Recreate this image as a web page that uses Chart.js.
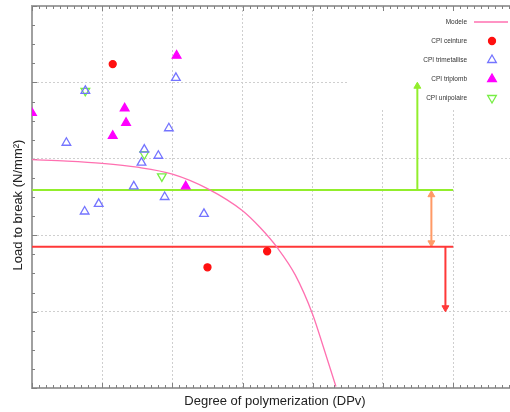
<!DOCTYPE html>
<html>
<head>
<meta charset="utf-8">
<script src="https://cdn.jsdelivr.net/npm/chart.js@4"></script>
<style>
  body { margin: 0; background: #fff; }
  #wrap { width: 510px; height: 412px; }
</style>
</head>
<body>
<div id="wrap"><canvas id="chart" width="510" height="412"></canvas></div>
<script>
// Load to break vs DPv (axes carry no numbers)
const modelX = [0, 0.5, 1, 1.5, 2, 2.5, 3, 3.25, 3.5, 3.75, 4, 4.15, 4.33];
const modelY = [2.99, 2.97, 2.94, 2.89, 2.80, 2.61, 2.32, 2.10, 1.83, 1.48, 0.96, 0.54, 0.02];

const ceintureX = [1.15, 2.50, 3.35];
const ceintureY = [4.24, 1.58, 1.79];

const trimetalliseX = [2.05, 0.76, 1.95, 0.49, 1.60, 1.80, 1.56, 1.45, 1.89, 0.95, 0.75, 2.45];
const trimetalliseY = [4.06, 3.89, 3.40, 3.21, 3.12, 3.04, 2.95, 2.64, 2.50, 2.41, 2.31, 2.28];

const triplombX = [0, 2.06, 1.32, 1.34, 1.15, 2.19];
const triplombY = [3.60, 4.35, 3.66, 3.47, 3.30, 2.64];

const unipolaireX = [0.76, 1.60, 1.85];
const unipolaireY = [3.89, 3.06, 2.77];

// threshold lines and arrows
const upperLimit = 2.59;
const lowerLimit = 1.85;
const limitEnd = 6;
const greenArrowX = 5.49;
const greenArrowTop = 3.95;
const orangeArrowX = 5.69;
const redArrowX = 5.89;
const redArrowBottom = 1.05;

const legendItems = ['Modele', 'CPI ceinture', 'CPI trimetallise', 'CPI triplomb', 'CPI unipolaire'];

const xMajor = [0, 1, 2, 3, 4, 5, 6];

const zip = (xs, ys) => xs.map((x, i) => ({ x: x, y: ys[i] }));

function pointsSet(label, xs, ys, style, color, fill, rotation, radius) {
    return {
        label: label,
        data: zip(xs, ys),
        showLine: false,
        pointStyle: style,
        pointRadius: radius,
        pointRotation: rotation,
        pointBorderColor: color,
        pointBackgroundColor: fill,
        pointBorderWidth: 1.3,
        clip: 0
    };
}

function lineSet(xs, ys, color, width) {
    return {
        data: zip(xs, ys),
        showLine: true,
        borderColor: color,
        borderWidth: width,
        pointRadius: 0,
        fill: false
    };
}

function arrowSet(xs, ys, color, radii, rotations) {
    return {
        data: zip(xs, ys),
        showLine: true,
        borderColor: color,
        borderWidth: 2,
        pointStyle: 'triangle',
        pointRadius: radii,
        pointRotation: rotations,
        pointBorderColor: color,
        pointBackgroundColor: color,
        pointBorderWidth: 1
    };
}

function drawMarker(ctx, style, x, y, r, rot) {
    ctx.beginPath();
    if (style === 'circle') {
        ctx.arc(x, y, r, 0, Math.PI * 2);
    } else {
        let rad = rot * Math.PI / 180;
        ctx.moveTo(x + Math.sin(rad) * r, y - Math.cos(rad) * r);
        rad += Math.PI * 2 / 3;
        ctx.lineTo(x + Math.sin(rad) * r, y - Math.cos(rad) * r);
        rad += Math.PI * 2 / 3;
        ctx.lineTo(x + Math.sin(rad) * r, y - Math.cos(rad) * r);
        ctx.closePath();
    }
}

// legend box (hides grid only), top border, minor ticks, axis titles, legend entries
const decorPlugin = {
    id: 'decor',
    beforeDatasetsDraw(chart) {
        const { ctx, chartArea: a, scales: { x, y } } = chart;
        ctx.save();
        ctx.fillStyle = '#fff';
        ctx.fillRect(347, a.top + 2, a.right - 347, 101);

        ctx.strokeStyle = '#a0a0a0';
        ctx.lineWidth = 2;
        ctx.beginPath();
        ctx.moveTo(a.left, a.top);
        ctx.lineTo(a.right, a.top);
        ctx.stroke();

        ctx.strokeStyle = '#808080';
        ctx.lineWidth = 1;
        ctx.beginPath();
        for (let i = 0; i <= 68; i++) {
            const px = Math.round(x.getPixelForValue(i / 10)) + 0.5;
            const len = i % 10 === 0 ? 5 : 3;
            ctx.moveTo(px, a.top);
            ctx.lineTo(px, a.top + len);
            ctx.moveTo(px, a.bottom);
            ctx.lineTo(px, a.bottom - len);
        }
        for (let j = 0; j <= 20; j++) {
            const py = Math.round(y.getPixelForValue(j / 4)) + 0.5;
            const len = j % 4 === 0 ? 5 : 3;
            ctx.moveTo(a.left, py);
            ctx.lineTo(a.left + len, py);
        }
        ctx.stroke();
        ctx.restore();
    },
    afterDraw(chart) {
        const { ctx } = chart;
        ctx.save();
        ctx.fillStyle = '#222';
        ctx.font = '13px "Liberation Sans", Arial, sans-serif';
        ctx.textAlign = 'center';
        ctx.textBaseline = 'middle';
        ctx.fillText('Degree of polymerization (DPv)', 275, 401);
        ctx.translate(18, 205);
        ctx.rotate(-Math.PI / 2);
        ctx.fillText('Load to break (N/mm\u00b2)', 0, 0);
        ctx.restore();

        // legend entries
        ctx.save();
        ctx.font = '6.5px "Liberation Sans", Arial, sans-serif';
        ctx.textAlign = 'right';
        ctx.textBaseline = 'middle';
        const rows = [22, 41, 60, 79, 98];
        const ds = chart.data.datasets;
        legendItems.forEach((txt, i) => {
            ctx.fillStyle = '#333';
            ctx.fillText(txt, 467, rows[i]);
        });
        ctx.strokeStyle = ds[0].borderColor;
        ctx.lineWidth = 1.3;
        ctx.beginPath();
        ctx.moveTo(474, rows[0]);
        ctx.lineTo(508, rows[0]);
        ctx.stroke();
        for (let i = 1; i < 5; i++) {
            const d = ds[i];
            ctx.fillStyle = d.pointBackgroundColor;
            ctx.strokeStyle = d.pointBorderColor;
            ctx.lineWidth = 1.3;
            drawMarker(ctx, d.pointStyle, 492, rows[i], d.pointRadius, d.pointRotation);
            ctx.fill();
            ctx.stroke();
        }
        ctx.restore();
    }
};

const ctx = document.getElementById('chart').getContext('2d');

new Chart(ctx, {
    type: 'scatter',
    data: {
        datasets: [
            Object.assign(lineSet(modelX, modelY, '#ff70b0', 1.3), { label: 'Modele', cubicInterpolationMode: 'monotone' }),
            pointsSet('CPI ceinture', ceintureX, ceintureY, 'circle', '#ff1010', '#ff1010', 0, 3.5),
            pointsSet('CPI trimetallise', trimetalliseX, trimetalliseY, 'triangle', '#7474ff', 'rgba(255,255,255,0)', 0, 5),
            pointsSet('CPI triplomb', triplombX, triplombY, 'triangle', '#ff00ff', '#ff00ff', 0, 5),
            pointsSet('CPI unipolaire', unipolaireX, unipolaireY, 'triangle', '#77ee44', 'rgba(255,255,255,0)', 180, 5),
            lineSet([0, limitEnd], [upperLimit, upperLimit], '#92ee2c', 2),
            lineSet([0, limitEnd], [lowerLimit, lowerLimit], '#ff3838', 2),
            arrowSet([greenArrowX, greenArrowX], [upperLimit, greenArrowTop], '#92ee2c', [0, 4], [0, 0]),
            arrowSet([orangeArrowX, orangeArrowX], [upperLimit - 0.06, lowerLimit + 0.05], '#ff9a66', [4, 4], [0, 180]),
            arrowSet([redArrowX, redArrowX], [lowerLimit, redArrowBottom], '#ff3838', [0, 4], [0, 180])
        ]
    },
    options: {
        responsive: false,
        animation: false,
        devicePixelRatio: 1,
        layout: { autoPadding: false, padding: { top: 6, right: 0, left: 0, bottom: 0 } },
        plugins: {
            legend: { display: false },
            tooltip: { enabled: false }
        },
        scales: {
            x: {
                type: 'linear',
                min: 0,
                max: 6.81,
                afterBuildTicks: s => { s.ticks = xMajor.map(v => ({ value: v })); },
                afterFit: s => { s.height = 24; },
                ticks: { display: false },
                grid: { color: '#cfcfcf', drawTicks: false, tickLength: 0 },
                border: { color: '#a0a0a0', width: 2, dash: [2, 2], dashOffset: 0 }
            },
            y: {
                type: 'linear',
                min: 0,
                max: 5,
                ticks: { display: false, stepSize: 1 },
                afterFit: s => { s.width = 32; },
                grid: { color: '#cfcfcf', drawTicks: false, tickLength: 0 },
                border: { color: '#a0a0a0', width: 2, dash: [2, 2] }
            }
        }
    },
    plugins: [decorPlugin]
});
</script>
</body>
</html>
